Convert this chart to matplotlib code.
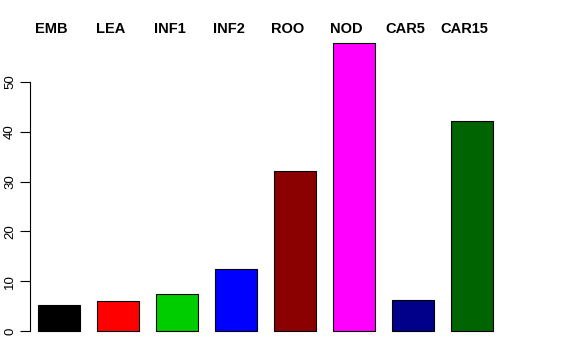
import numpy as np
import matplotlib
matplotlib.use('Agg')
import matplotlib.pyplot as plt

plt.rcParams['font.family'] = ['Liberation Sans', 'DejaVu Sans']

tissues = ['EMB', 'LEA', 'INF1', 'INF2', 'ROO', 'NOD', 'CAR5', 'CAR15']
values = [5.2, 6.0, 7.4, 12.4, 32.1, 57.8, 6.2, 42.1]
colors = ['#000000', '#FF0000', '#00CD00', '#0000FF', '#8B0000', '#FF00FF', '#00008B', '#006400']
yticks = [0, 10, 20, 30, 40, 50]

fig = plt.figure(figsize=(5.76, 3.6), dpi=100)
ax = fig.add_axes([30 / 576, 0.0483, 472 / 576, 0.915 - 0.0483])

x = np.arange(len(tissues))
ax.bar(x, values, width=42 / 59, color=colors, edgecolor='black', linewidth=0.8)
ax.set_xlim(-0.4915, 7.508)
ax.set_ylim(-2.32, 60.32)

# labels above the plot
for i, name in enumerate(tissues):
    ax.text(i - 0.125, 60.6, name, ha='center', va='center', fontsize=10.5,
            fontweight='bold', clip_on=False)

for side in ['top', 'right', 'bottom']:
    ax.spines[side].set_visible(False)
ax.spines['left'].set_bounds(0, 50)
ax.spines['left'].set_linewidth(0.8)
ax.set_xticks([])
ax.set_yticks(yticks)
ax.set_yticklabels([str(t) for t in yticks], rotation=90, va='center', fontsize=9.5)
ax.tick_params(axis='y', length=7, width=0.8, pad=3)

fig.savefig('out.png', dpi=100)
